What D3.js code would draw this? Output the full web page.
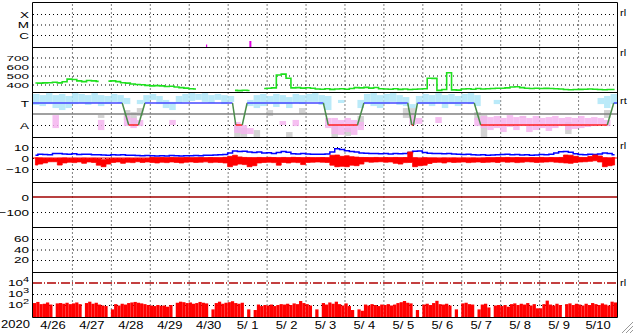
<!DOCTYPE html>
<html>
<head>
<meta charset="utf-8">
<script src="https://cdn.jsdelivr.net/npm/d3@7"></script>
<style>
  body { margin: 0; background: #fff; }
  svg { display: block; font-family: "Liberation Sans", Arial, sans-serif; }
</style>
</head>
<body>
<div id="chart"></div>
<script>
// ---- data ----
var startDay = Date.UTC(2020, 3, 26);
var nDays = 15;

// panel 1: event rows and the two magenta events (hours from start, size)
var rowLabels = ["X", "M", "C"];
var eventHours = [107, 134];
var eventSize = [2.5, 6];

// panel 2: green trace, one value per 3 hours
var greenVals = [
  417,415,418,420,425,418,430,460,455,440,
  432,445,440,435,null,438,440,432,420,415,
  405,400,398,390,385,388,385,378,380,372,
  365,360,352,350,null,null,null,null,null,null,
  null,335,332,336,333,null,null,355,358,362,
  505,515,470,362,365,360,364,358,350,348,
  352,346,350,352,348,355,365,362,368,360,
  366,352,350,348,352,346,350,345,348,350,
  352,470,468,335,345,530,340,338,350,352,
  348,355,350,352,356,358,358,362,372,375,
  365,358,356,358,355,357,356,352,350,345,
  342,344,346,348,350,348,345,342,344,345];
var greenTicks = [400, 500, 600, 700];

// panel 3: scatter ranges per 4 hours (A = 0, T = 100)
var cyanHi = [
  141,136,145,136,141,132,145,141,136,145,
  136,132,141,136,123,null,114,136,141,132,
  114,105,132,141,145,141,145,136,141,136,
  132,null,null,114,136,141,132,141,136,127,
  141,136,141,145,136,132,null,114,null,null,
  114,141,145,136,141,145,136,127,95,132,
  141,136,145,136,141,132,141,145,136,null,
  null,114,null,null,null,null,null,null,null,null,
  null,null,null,null,null,null,null,123,132,141];
var cyanLo = [
  91,86,95,77,68,77,95,100,91,100,
  86,95,105,100,95,null,95,100,114,95,
  77,68,100,105,109,114,105,100,114,95,
  105,null,null,86,77,86,95,82,95,77,
  100,95,105,105,91,68,null,100,null,null,
  77,95,86,77,95,105,91,86,77,95,
  95,86,100,77,95,86,100,95,86,null,
  null,95,null,null,null,null,null,null,null,null,
  null,null,null,null,null,null,null,95,77,95];
var pinkHi = [
  null,null,null,45,null,null,null,null,null,null,
  23,null,null,null,41,32,23,null,null,null,
  null,23,null,null,null,null,null,null,null,null,
  null,14,0,-14,null,null,null,null,18,null,
  23,null,null,null,null,32,32,23,32,23,
  14,null,null,null,null,null,null,null,45,32,
  null,null,36,null,null,null,null,null,32,41,
  36,41,32,45,36,41,32,41,32,36,
  41,32,36,32,41,32,36,32,23,null];
var pinkLo = [
  null,null,null,-14,null,null,null,null,null,null,
  -23,null,null,null,-5,-14,-5,null,null,null,
  null,0,null,null,null,null,null,null,null,null,
  null,-36,-41,-41,null,null,null,null,0,null,
  -5,null,null,null,null,-14,-41,-45,-32,-45,
  -23,null,null,null,null,null,null,null,0,5,
  null,null,9,null,null,null,null,null,-5,-14,
  -23,-14,-32,-9,-23,-5,-32,-23,-14,-27,
  -14,-5,-23,-18,-14,-9,-5,0,-5,null];
var grayHi = [
  null,null,null,null,null,null,null,null,null,null,
  45,null,null,null,68,59,77,null,null,null,
  null,null,null,null,null,null,null,null,null,null,
  null,-5,-14,null,-23,null,68,null,null,-32,
  null,77,null,null,null,null,0,null,-14,null,
  41,null,null,null,null,null,null,77,77,null,
  null,null,null,null,null,null,null,null,59,45,
  null,null,null,null,null,41,null,null,null,null,
  null,null,14,null,null,null,null,null,68,null];
var grayLo = [
  null,null,null,null,null,null,null,null,null,null,
  32,null,null,null,23,0,41,null,null,null,
  null,null,null,null,null,null,null,null,null,null,
  null,-55,-55,null,-55,null,41,null,null,-55,
  null,50,null,null,null,null,-55,null,-50,null,
  -5,null,null,null,null,null,null,32,32,null,
  null,null,null,null,null,null,null,null,23,-55,
  null,null,null,null,null,32,null,null,null,null,
  null,null,-41,null,null,null,null,null,32,null];
// mode line: hours from start and level (T = 100, A = 0)
var modeHours = [0,55,59,65,69,123,125,129,132,179,182,200,204,231,233.5,234.5,237,272,276,354,358,360];
var modeLevel = [100,100,0,0,100,100,0,0,100,100,0,0,100,100,0,0,100,100,0,0,100,100];

// panel 4: blue line and red band, one value per 3 hours
var blueVals = [
  2.5,3.5,3.2,3.0,4.2,4.0,3.6,3.4,3.8,3.2,
  3.5,3.4,3.0,3.0,2.8,2.6,3.0,2.7,2.9,2.6,
  2.4,2.2,2.0,2.3,2.1,1.8,2.0,1.9,2.2,2.0,
  1.8,2.1,2.0,2.2,2.0,2.4,2.5,2.8,3.0,3.2,
  4.5,6.4,6.0,6.2,5.5,5.0,5.4,4.6,4.8,4.2,
  5.0,6.0,5.2,3.8,3.6,4.0,3.6,3.4,3.5,3.4,
  3.6,5.5,8.5,7.8,6.5,6.0,5.4,4.5,4.4,4.0,
  4.2,3.8,4.0,3.6,4.2,3.8,4.0,5.0,6.2,6.4,
  5.0,4.4,4.0,4.2,3.8,4.0,3.6,3.4,3.2,3.4,
  3.0,2.8,2.9,2.6,2.8,3.0,3.2,3.4,3.0,3.2,
  2.8,3.0,2.6,2.8,3.2,3.0,3.4,4.5,5.6,5.8,
  5.2,3.8,3.2,3.0,3.4,3.2,3.6,4.5,4.2,3.0];
var redHi = [
  0.2,0,-0.3,-0.3,-0.5,-0.3,0,-0.5,-0.3,-0.5,
  -0.2,-0.5,-0.3,-0.6,-1.5,-0.8,-0.5,-0.4,-0.6,-0.3,
  -0.5,-0.4,-0.6,-0.5,0.5,0.3,0.4,0.2,0.5,0.3,
  0.2,0.4,0.2,0.3,0.5,0.2,0.4,0.3,0.2,0.6,
  1.5,2.5,1.0,0.5,0.3,0.2,0.5,0.3,0.6,0.4,
  0.2,0.5,0.3,0.6,0.4,0.2,0.5,0.3,0.3,0.4,
  0.2,2.5,2.7,1.5,2.0,1.2,0.8,0.5,0.4,0.3,
  0.5,0.2,0.4,0.3,0.5,0.3,0.4,5.5,0.2,-0.2,
  0.2,0,0,-0.3,0,-0.2,0,-0.3,0,-0.2,
  0,-0.3,0,0.3,0.2,0.4,0.3,0.5,0.2,0.4,
  0.3,0.2,0.4,0.3,0.5,0.2,0.4,0.3,0.5,2.7,
  2.5,1.5,0.5,0.4,1.5,2.7,1.8,0.2,0,0.5];
var redLo = [
  -6.4,-5.5,-4.5,-3.4,-3.4,-6.4,-4.5,-3.8,-4.2,-3.6,
  -4.8,-3.6,-4.0,-6.5,-7.9,-5.5,-4.0,-3.6,-4.8,-3.8,
  -4.2,-3.4,-4.0,-3.6,-4.0,-4.5,-3.8,-4.2,-3.6,-4.0,
  -4.5,-3.8,-3.6,-4.0,-3.8,-3.5,-4.2,-3.8,-4.0,-4.5,
  -7.9,-6.5,-5.5,-6.0,-7.9,-7.0,-4.5,-4.0,-3.8,-4.2,
  -6.5,-4.0,-4.5,-3.8,-4.2,-6.0,-4.0,-3.8,-3.6,-3.8,
  -4.0,-6.5,-7.9,-7.5,-7.9,-6.5,-7.0,-5.5,-3.4,-3.8,
  -3.6,-3.4,-3.8,-3.6,-4.8,-5.5,-4.2,-4.0,-7.9,-7.0,
  -6.5,-5.0,-4.0,-3.8,-4.5,-3.6,-4.0,-3.8,-3.6,-4.2,
  -3.8,-3.6,-4.0,-3.8,-3.6,-4.0,-3.4,-3.8,-3.6,-4.2,
  -3.8,-3.4,-3.6,-4.0,-3.8,-3.6,-3.4,-3.8,-4.2,-4.5,
  -4.8,-4.0,-3.6,-3.4,-3.0,-2.5,-3.6,-7.9,-7.0,-6.4];
var ticks4 = [-10, 0, 10];

// panel 5 and 6: tick values only
var ticks5 = [-100, 0];
var ticks6 = [20, 40, 60];

// panel 7: counts per 2 hours (log scale)
var countVals = [
  150,190,120,130,170,110,0,140,150,130,160,120,
  140,170,120,0,150,200,130,160,110,90,80,0,
  40,120,90,130,110,150,170,190,160,140,120,100,
  90,80,100,85,90,70,100,0,160,200,180,150,
  170,130,150,190,160,140,0,40,150,200,130,160,
  180,220,150,130,160,0,40,0,35,110,80,100,
  90,110,80,100,120,110,130,100,140,120,230,150,
  120,90,0,40,0,150,110,170,130,200,120,90,
  140,80,35,0,40,30,110,90,120,100,80,110,
  100,120,90,110,150,180,230,160,140,0,35,0,
  110,130,100,150,240,120,110,130,90,0,40,0,
  140,160,120,110,0,40,110,130,60,0,90,100,
  80,100,70,120,140,100,130,110,150,90,120,50,
  50,120,250,110,90,130,100,0,120,140,100,130,
  110,90,130,100,150,120,100,140,110,90,200,170];
var ticks7 = [100, 1000, 10000];

// ---- layout ----
var svgWidth = 633, svgHeight = 334;
var left = 33, right = 617;
var bounds = [2.5, 47.5, 92.5, 137.5, 182.5, 227.5, 272.5, 317.5];

var svg = d3.select("#chart").append("svg")
  .attr("width", svgWidth)
  .attr("height", svgHeight);

var hours = function(h) { return new Date(startDay + h * 3600000); };
var xScale = d3.scaleUtc().domain([hours(0), hours(nDays * 24)]).range([left, right]);

// panel scales
var y1 = d3.scalePoint().domain(rowLabels).range([14, 35]);
var y1ev = d3.scaleLinear().domain([0, 10]).range([47, 37]);
var y2 = d3.scaleLinear().domain([400, 700]).range([84.5, 57.5]);
var y3 = d3.scaleLinear().domain([0, 100]).range([125, 103]);
var y4 = d3.scaleLinear().domain([-10, 10]).range([169, 147]);
var y5 = d3.scaleLinear().domain([-100, 0]).range([212, 197]);
var y6 = d3.scaleLinear().domain([20, 60]).range([260, 239]);
var y7 = d3.scaleLog().domain([100, 10000]).range([305, 283]);

// clip paths
var defs = svg.append("defs");
for (var p = 0; p < 7; p++) {
  defs.append("clipPath").attr("id", "clip" + p)
    .append("rect")
    .attr("x", left).attr("y", bounds[p])
    .attr("width", right - left).attr("height", bounds[p + 1] - bounds[p]);
}
function panel(p) { return svg.append("g").attr("clip-path", "url(#clip" + p + ")"); }

// vertical day grid
var dayTicks = d3.utcDay.range(hours(24), hours(nDays * 24));
svg.append("g")
  .attr("transform", "translate(0," + bounds[7] + ")")
  .call(d3.axisBottom(xScale).tickValues(dayTicks).tickSize(-(bounds[7] - bounds[0])).tickFormat(""))
  .call(function(g) { g.select(".domain").remove(); })
  .selectAll("line").attr("stroke", "#000").attr("stroke-dasharray", "1,3");

// horizontal dotted grid
function hgrid(scale, vals) {
  svg.append("g")
    .attr("transform", "translate(" + left + ",0)")
    .call(d3.axisLeft(scale).tickValues(vals).tickSize(-(right - left)).tickFormat(""))
    .call(function(g) { g.select(".domain").remove(); })
    .selectAll("line").attr("stroke", "#000").attr("stroke-dasharray", "1,3");
}
hgrid(y1, rowLabels);
hgrid(y2, greenTicks);
hgrid(y3, [0]);
hgrid(y4, ticks4);
hgrid(y5, [-100]);
hgrid(y6, ticks6);
hgrid(y7, [100, 1000]);

// ---- panel 1 ----
var g1 = panel(0);
g1.selectAll("line.ev")
  .data(eventHours)
  .enter().append("line")
  .attr("x1", function(d) { return xScale(hours(d)); })
  .attr("x2", function(d) { return xScale(hours(d)); })
  .attr("y1", y1ev(0))
  .attr("y2", function(d, i) { return y1ev(eventSize[i]); })
  .attr("stroke", "#e000e0")
  .attr("stroke-width", function(d, i) { return i ? 2 : 1.2; });

// ---- panel 2 ----
var g2 = panel(1);
var greenLine = d3.line()
  .defined(function(d) { return d != null; })
  .x(function(d, i) { return xScale(hours(i * 3 + 1.5)); })
  .y(function(d) { return y2(d); })
  .curve(d3.curveStep);
g2.append("path")
  .datum(greenVals)
  .attr("d", greenLine)
  .attr("fill", "none")
  .attr("stroke", "#1ee01e")
  .attr("stroke-width", 1.6);

// ---- panel 3 ----
var g3 = panel(2);
function rangeBins(g, hi, lo, color, op) {
  g.selectAll(null)
    .data(hi.map(function(h, i) { return { i: i, hi: h, lo: lo[i] }; }).filter(function(d) { return d.hi != null; }))
    .enter().append("rect")
    .attr("x", function(d) { return xScale(hours(d.i * 4)); })
    .attr("width", function(d) { return xScale(hours(d.i * 4 + 4)) - xScale(hours(d.i * 4)); })
    .attr("y", function(d) { return y3(d.hi); })
    .attr("height", function(d) { return y3(d.lo) - y3(d.hi); })
    .attr("fill", color)
    .attr("fill-opacity", op);
}
rangeBins(g3, grayHi, grayLo, "#c8c8c8", 0.8);
rangeBins(g3, pinkHi, pinkLo, "#f4b4ee", 0.85);
rangeBins(g3, cyanHi, cyanLo, "#aee6f8", 0.85);

g3.append("line")
  .attr("x1", left).attr("x2", right)
  .attr("y1", y3(50)).attr("y2", y3(50))
  .attr("stroke", "#808080").attr("stroke-width", 1.5);

for (var k = 0; k < modeHours.length - 1; k++) {
  var a = modeLevel[k], b = modeLevel[k + 1];
  g3.append("line")
    .attr("x1", xScale(hours(modeHours[k])))
    .attr("x2", xScale(hours(modeHours[k + 1])))
    .attr("y1", y3(a)).attr("y2", y3(b))
    .attr("stroke", a === b ? (a === 100 ? "#4646ff" : "#ff2020") : "#4a8c4a")
    .attr("stroke-width", 1.5);
}

// ---- panel 4 ----
var g4 = panel(3);
g4.append("line")
  .attr("x1", left).attr("x2", right)
  .attr("y1", y4(0)).attr("y2", y4(0))
  .attr("stroke", "#ff0000");
var blueLine = d3.line()
  .x(function(d, i) { return xScale(hours(i * 3 + 1.5)); })
  .y(function(d) { return y4(d); })
  .curve(d3.curveStep);
g4.append("path")
  .datum(blueVals)
  .attr("d", blueLine)
  .attr("fill", "none")
  .attr("stroke", "#0000ff")
  .attr("stroke-width", 1.5);
var redArea = d3.area()
  .x(function(d, i) { return xScale(hours(i * 3 + 1.5)); })
  .y0(function(d, i) { return y4(redLo[i]); })
  .y1(function(d) { return y4(d); })
  .curve(d3.curveStep);
g4.append("path")
  .datum(redHi)
  .attr("d", redArea)
  .attr("fill", "#ff0000")
  .attr("stroke", "#ff0000")
  .attr("stroke-width", 0.8);

// ---- panel 5 ----
var g5 = panel(4);
g5.append("line")
  .attr("x1", left).attr("x2", right)
  .attr("y1", y5(0)).attr("y2", y5(0))
  .attr("stroke", "#a00000").attr("stroke-width", 1.3);

// ---- panel 7 ----
var g7 = panel(6);
g7.append("line")
  .attr("x1", left).attr("x2", right)
  .attr("y1", y7(10000)).attr("y2", y7(10000))
  .attr("stroke", "#b00000").attr("stroke-width", 1.3)
  .attr("stroke-dasharray", "9,2,1,2");
g7.selectAll("rect.cnt")
  .data(countVals.map(function(v, i) { return { i: i, v: v }; }).filter(function(d) { return d.v > 0; }))
  .enter().append("rect")
  .attr("x", function(d) { return xScale(hours(d.i * 2)); })
  .attr("width", function(d) { return xScale(hours(d.i * 2 + 2)) - xScale(hours(d.i * 2)); })
  .attr("y", function(d) { return y7(d.v); })
  .attr("height", function(d) { return bounds[7] - y7(d.v); })
  .attr("fill", "#ff0000");

// ---- frame ----
svg.selectAll("line.sep")
  .data(bounds)
  .enter().append("line")
  .attr("x1", left - 0.5).attr("x2", right + 0.5)
  .attr("y1", function(d) { return d; }).attr("y2", function(d) { return d; })
  .attr("stroke", "#000").attr("stroke-width", 1.2);
svg.append("line").attr("x1", left - 0.5).attr("x2", left - 0.5)
  .attr("y1", bounds[0]).attr("y2", bounds[7]).attr("stroke", "#000");
svg.append("line").attr("x1", right + 0.5).attr("x2", right + 0.5)
  .attr("y1", bounds[0]).attr("y2", bounds[7]).attr("stroke", "#000");

// ---- left labels ----
function leftAxis(scale, vals, fmt, sy) {
  var ax = d3.axisLeft(scale).tickValues(vals).tickSize(0).tickPadding(4);
  if (fmt) ax.tickFormat(fmt);
  var g = svg.append("g")
    .attr("transform", "translate(" + left + ",0)")
    .call(ax);
  g.select(".domain").remove();
  g.selectAll("text")
    .attr("fill", "#000")
    .style("font-size", "13.5px")
    .style("font-family", "Liberation Sans, Arial, sans-serif")
    .attr("transform", "scale(1," + (sy || 0.72) + ")");
  return g;
}
leftAxis(y1, rowLabels);
leftAxis(y2, greenTicks, null, 0.58);
leftAxis(y3, [0, 100], function(d) { return d === 100 ? "T" : "A"; });
leftAxis(y4, ticks4);
leftAxis(y5, ticks5);
leftAxis(y6, ticks6, null, 0.66);
var g7ax = leftAxis(y7, ticks7, function(d) { return d; }, 0.66);
g7ax.selectAll("text").each(function(d) {
  var t = d3.select(this);
  t.text("10");
  t.append("tspan").attr("dy", "-0.55em").style("font-size", "11px").text(Math.round(Math.log10(d)));
});

// ---- right tags ----
var tags = [["rl", 12], ["rl", 52], ["rt", 100], ["rl", 145], ["rl", 282]];
svg.selectAll("text.tag")
  .data(tags)
  .enter().append("text")
  .attr("transform", function(d) { return "translate(620," + (d[1] + 3.5) + ") scale(1,0.8)"; })
  .style("font-size", "11px")
  .text(function(d) { return d[0]; });

// ---- bottom labels ----
var noonTicks = d3.utcDay.range(hours(0), hours(nDays * 24)).map(function(d) { return d3.utcHour.offset(d, 12); });
var fmtDay = d3.utcFormat("%-m/%e");
var gx = svg.append("g")
  .attr("transform", "translate(0," + bounds[7] + ")")
  .call(d3.axisBottom(xScale).tickValues(noonTicks).tickSize(0).tickFormat(fmtDay));
gx.select(".domain").remove();
gx.selectAll("text")
  .attr("y", 0).attr("dy", 0)
  .attr("fill", "#000")
  .style("font-size", "13px")
  .style("font-family", "Liberation Sans, Arial, sans-serif")
  .style("white-space", "pre")
  .attr("transform", "translate(0,11) scale(1,0.78)");
svg.append("text")
  .attr("transform", "translate(1,328) scale(1,0.78)")
  .style("font-size", "13px")
  .text("2020");

// ---- resize grip ----
[0, 4, 8].forEach(function(k) {
  svg.append("line")
    .attr("x1", 633).attr("y1", 322 + k)
    .attr("x2", 622 + k).attr("y2", 333)
    .attr("stroke", "#999").attr("stroke-width", 1);
});
</script>
</body>
</html>
